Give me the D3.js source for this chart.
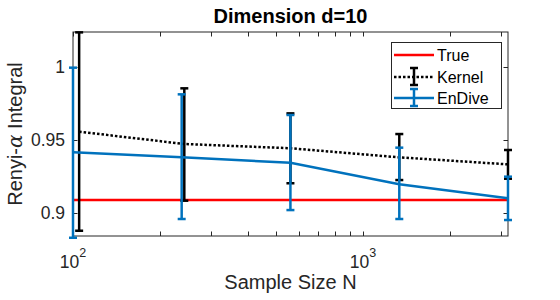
<!DOCTYPE html>
<html><head><meta charset="utf-8">
<script src="https://cdn.jsdelivr.net/npm/d3@7"></script>
<style>body{margin:0;background:#fff}svg{display:block}text{font-family:"Liberation Sans",Arial,sans-serif;fill:#262626}</style>
</head><body>
<script>
const sampleN = [100, 237, 562, 1334, 3162];
const kernelN = [105, 242, 562, 1334, 3162];
const trueValue = 0.9089;
const kernelMean = [0.9555, 0.9471, 0.9442, 0.9380, 0.9332];
const kernelLow  = [0.8879, 0.9084, 0.9203, 0.9225, 0.9234];
const kernelHigh = [1.0233, 0.9851, 0.9680, 0.9539, 0.9430];
const endiveMean = [0.9414, 0.9380, 0.9343, 0.9196, 0.9100];
const endiveLow  = [0.8831, 0.8959, 0.9020, 0.8959, 0.8952];
const endiveHigh = [0.9992, 0.9810, 0.9669, 0.9446, 0.9248];
const yTicks = [0.9, 0.95, 1];
const yTickLabels = ["0.9", "0.95", "1"];
const xMajor = [100, 1000];
const xMajorExp = ["2", "3"];
const xMinor = [200,300,400,500,600,700,800,900,2000,3000];
const legendNames = ["True", "Kernel", "EnDive"];

const W = 560, H = 300;
const L = 73, R = 508, T = 32, B = 236;
const axisCol = "#262626", blue = "#0072BD", red = "#FF0000";

const svg = d3.select("body").append("svg").attr("width", W).attr("height", H);
const x = d3.scaleLog().domain([100, 3162.28]).range([L, R]);
const y = d3.scaleLinear().domain([0.8843, 1.02355]).range([B, T]);

// axes box
const ax = svg.append("g");
ax.append("rect").attr("x", L).attr("y", T).attr("width", R - L).attr("height", B - T)
  .attr("fill", "none").attr("stroke", axisCol).attr("stroke-width", 1);
const tl = 4.5;
xMajor.concat(xMinor).forEach(v => {
  const px = Math.round(x(v)) + 0.5;
  ax.append("line").attr("x1", px).attr("x2", px).attr("y1", B).attr("y2", B - tl).attr("stroke", axisCol);
  ax.append("line").attr("x1", px).attr("x2", px).attr("y1", T).attr("y2", T + tl).attr("stroke", axisCol);
});
yTicks.forEach((v, i) => {
  const py = Math.round(y(v)) + 0.5;
  ax.append("line").attr("x1", L).attr("x2", L + tl).attr("y1", py).attr("y2", py).attr("stroke", axisCol);
  ax.append("line").attr("x1", R).attr("x2", R - tl).attr("y1", py).attr("y2", py).attr("stroke", axisCol);
  ax.append("text").attr("x", L - 8).attr("y", y(v)).attr("dy", "0.35em").attr("text-anchor", "end")
    .attr("font-size", 17.5).text(yTickLabels[i]);
});
xMajor.forEach((v, i) => {
  const t = ax.append("text").attr("x", x(v)).attr("y", 267.5).attr("text-anchor", "middle").attr("font-size", 17.5);
  t.append("tspan").text("10");
  t.append("tspan").attr("dy", -11).attr("font-size", 12.5).text(xMajorExp[i]);
});

// labels
svg.append("text").attr("x", (L + R) / 2).attr("y", 23).attr("text-anchor", "middle")
  .attr("font-size", 20).attr("font-weight", "bold").style("fill", "#000").text("Dimension d=10");
svg.append("text").attr("x", (L + R) / 2).attr("y", 289).attr("text-anchor", "middle")
  .attr("font-size", 20).text("Sample Size N");
const yl = svg.append("text").attr("transform", `translate(22,${(T + B) / 2}) rotate(-90)`)
  .attr("text-anchor", "middle").attr("font-size", 20);
yl.append("tspan").text("Renyi-");
yl.append("tspan").attr("font-family", "DejaVu Serif, serif").attr("font-style", "italic").text("α");
yl.append("tspan").text(" Integral");

// true line
svg.append("line").attr("x1", x(sampleN[0])).attr("x2", x(sampleN[sampleN.length - 1]))
  .attr("y1", y(trueValue)).attr("y2", y(trueValue)).attr("stroke", red).attr("stroke-width", 2.5);

function errBars(g, xs, lo, hi, col) {
  const cw = 4;
  xs.forEach((n, i) => {
    const px = x(n);
    g.append("line").attr("x1", px).attr("x2", px).attr("y1", y(lo[i])).attr("y2", y(hi[i])).attr("stroke", col).attr("stroke-width", 2.5);
    [lo[i], hi[i]].forEach(v => g.append("line").attr("x1", px - cw).attr("x2", px + cw)
      .attr("y1", y(v)).attr("y2", y(v)).attr("stroke", col).attr("stroke-width", 2.5));
  });
}
// kernel
const line = d3.line();
svg.append("path").attr("d", line(kernelN.map((n, i) => [x(n), y(kernelMean[i])])))
  .attr("fill", "none").attr("stroke", "#000").attr("stroke-width", 2.5).attr("stroke-dasharray", "2.5,2");
errBars(svg.append("g"), kernelN, kernelLow, kernelHigh, "#000");
// endive
svg.append("path").attr("d", line(sampleN.map((n, i) => [x(n), y(endiveMean[i])])))
  .attr("fill", "none").attr("stroke", blue).attr("stroke-width", 2.5);
errBars(svg.append("g"), sampleN, endiveLow, endiveHigh, blue);

// legend
const lg = svg.append("g");
lg.append("rect").attr("x", 391.5).attr("y", 42.5).attr("width", 110).attr("height", 66)
  .attr("fill", "#fff").attr("stroke", axisCol).attr("stroke-width", 1);
const rows = [55, 77, 98];
const styles = [
  {col: red, dash: null, bar: false},
  {col: "#000", dash: "2.5,2", bar: true},
  {col: blue, dash: null, bar: true}
];
legendNames.forEach((name, i) => {
  const ry = rows[i], s = styles[i];
  const l = lg.append("line").attr("x1", 394).attr("x2", 434).attr("y1", ry).attr("y2", ry)
    .attr("stroke", s.col).attr("stroke-width", 2.5);
  if (s.dash) l.attr("stroke-dasharray", s.dash);
  if (s.bar) {
    lg.append("line").attr("x1", 414).attr("x2", 414).attr("y1", ry - 9).attr("y2", ry + 8).attr("stroke", s.col).attr("stroke-width", 2.5);
    [ry - 9, ry + 8].forEach(v => lg.append("line").attr("x1", 410).attr("x2", 418).attr("y1", v).attr("y2", v)
      .attr("stroke", s.col).attr("stroke-width", 2.5));
  }
  lg.append("text").attr("x", 437).attr("y", ry).attr("dy", "0.35em").attr("font-size", 16).style("fill", "#000").text(name);
});
</script>
</body></html>
